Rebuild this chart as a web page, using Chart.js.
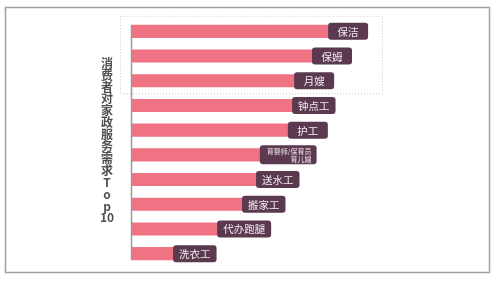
<!DOCTYPE html>
<html>
<head>
<meta charset="utf-8">
<script src="https://cdn.jsdelivr.net/npm/chart.js@4"></script>
<style>
  html,body{margin:0;padding:0;background:#fff;}
  #wrap{width:500px;height:282px;position:relative;}
</style>
</head>
<body>
<div id="wrap"><canvas id="chart"></canvas></div>
<script>
/* ===== data ===== */
const categories = ["保洁","保姆","月嫂","钟点工","护工",["育婴师/保育员","育儿嫂"],"送水工","搬家工","代办跑腿","洗衣工"];
const demand = [56.6, 52, 46.9, 46.3, 45.1, 37.1, 36, 32, 24.9, 12.3];
const titleChars = ["消","费","者","对","家","政","服","务","需","求","T","o","p","10"];

const BAR = "#ef7383";
const TAG = "#5b3a50";
const FONT = "'Noto Sans CJK SC','Noto Sans',sans-serif";

/* ===== frame, title, axis line, tags ===== */
const decor = {
  id: "decor",
  beforeDraw(chart){
    const c = chart.ctx;
    c.save();
    c.fillStyle = "#fff";
    c.fillRect(0,0,chart.width,chart.height);
    c.strokeStyle = "#a0a0a0";
    c.lineWidth = 1.5;
    c.strokeRect(5.5,7.5,484,265);
    c.restore();
  },
  afterDatasetsDraw(chart){
    const c = chart.ctx, a = chart.chartArea;
    const els = chart.getDatasetMeta(0).data;
    c.save();

    // dotted box round the top three
    const h0 = els[0].height;
    c.strokeStyle = "#c8c8c8";
    c.lineWidth = 1;
    c.setLineDash([1,2]);
    c.strokeRect(a.left-11.5, els[0].y-h0/2-8.5, 262, els[2].y-els[0].y+h0+15);
    c.setLineDash([]);

    // axis line
    c.strokeStyle = "#9a9a9a";
    c.lineWidth = 1.5;
    c.beginPath();
    c.moveTo(a.left-0.5, els[0].y-els[0].height/2);
    c.lineTo(a.left-0.5, els[els.length-1].y+els[0].height/2);
    c.stroke();

    // tags at bar ends
    els.forEach((el,i)=>{
      const lab = categories[i];
      const multi = Array.isArray(lab);
      c.font = multi ? "7px "+FONT : "10.5px "+FONT;
      const tw = multi ? Math.max(...lab.map(s=>c.measureText(s).width)) : c.measureText(lab).width;
      const w = Math.max(40, tw+12);
      const h = multi ? 19 : 17;
      const x = el.x-2, y = el.y-h/2;
      c.fillStyle = TAG;
      c.beginPath();
      c.roundRect(x,y,w,h,3);
      c.fill();
      c.fillStyle = "#f3e9ef";
      c.textBaseline = "middle";
      if(multi){
        c.textAlign = "right";
        c.fillText(lab[0], x+w-5, el.y-4);
        c.fillText(lab[1], x+w-5, el.y+4.5);
      } else {
        c.textAlign = "center";
        c.fillText(lab, x+w/2, el.y+0.5);
      }
    });

    // stacked axis title
    c.fillStyle = "#505050";
    c.font = "bold 12px "+FONT;
    c.textAlign = "center";
    c.textBaseline = "middle";
    const step = 11.9;
    const mid = (a.top+a.bottom)/2 - 2;
    const start = mid - step*(titleChars.length-1)/2;
    titleChars.forEach((ch,i)=> c.fillText(ch, 107, start+i*step));
    c.restore();
  }
};

new Chart(document.getElementById("chart"),{
  type:"bar",
  data:{
    labels: categories,
    datasets:[{data: demand, backgroundColor: BAR, borderWidth:0, barPercentage:1, categoryPercentage:0.53}]
  },
  options:{
    indexAxis:"y",
    responsive:true,
    maintainAspectRatio:false,
    animation:false,
    layout:{padding:{left:132, right:18, top:19, bottom:16}},
    plugins:{legend:{display:false}, tooltip:{enabled:false}},
    scales:{
      x:{display:false, min:0, max:100},
      y:{display:false}
    }
  },
  plugins:[decor]
});
</script>
</body>
</html>
